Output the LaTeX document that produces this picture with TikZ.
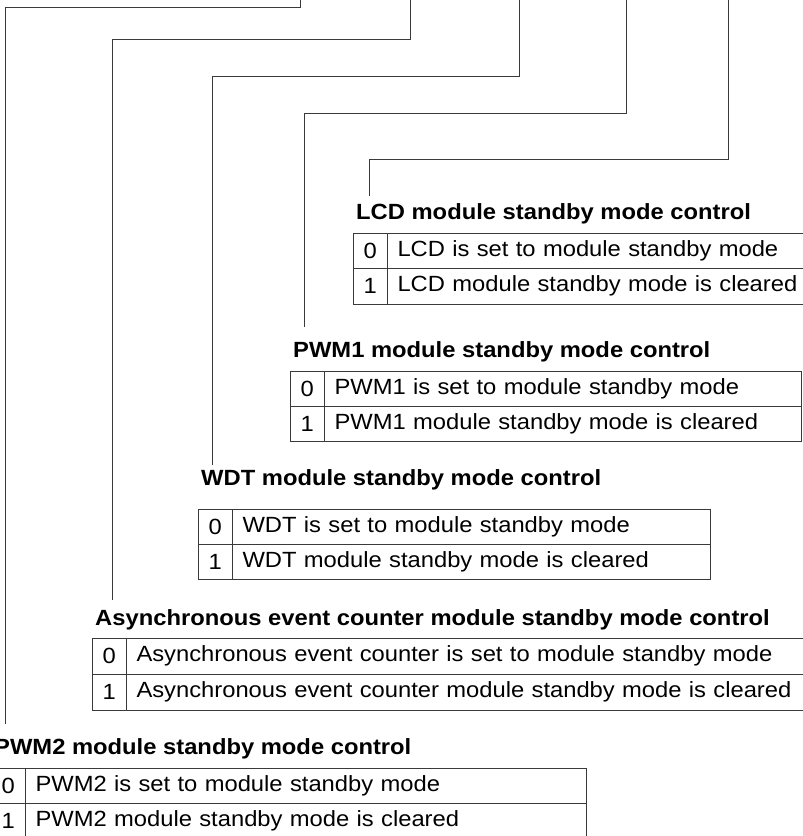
\documentclass[tikz,border=0pt]{standalone}
\usepackage{fontspec}
\setmainfont{Liberation Sans}[FakeStretch=1.08]
\usepackage{tikz}
\usetikzlibrary{positioning}
\definecolor{RuleGray}{HTML}{3A3A3A}

\begin{document}
\begin{tikzpicture}[x=1pt, y=-1pt,
  wire/.style={RuleGray, line width=0.9pt},
  ttl/.style={anchor=base west, inner sep=0pt, font=\fontsize{22}{26}\selectfont\bfseries},
  bitcell/.style={draw=RuleGray, line width=0.9pt, outer sep=0pt, minimum width=34.5pt,
    minimum height=35pt, inner sep=0pt, font=\fontsize{22}{26}\selectfont},
  desccell/.style={draw=RuleGray, line width=0.9pt, outer sep=0pt, minimum height=35pt,
    text width=#1, align=left, inner xsep=10pt, inner ysep=0pt, font=\fontsize{22}{26}\selectfont},
]
  \useasboundingbox (0,0) rectangle (803,836);
  % bit wires from the register down to each field
  \foreach \n/\tx/\hy/\lx/\ey in {1/300/7/5/724, 2/410/39/112/600, 3/519/76/212/465,
                                  4/626/113/304/327, 5/728/159/369/196} {
    \coordinate (t\n) at (\tx,-2);
    \coordinate (e\n) at (\lx,\ey);
    \draw[wire] (t\n) -- (\tx,\hy) -| (e\n);
  }
  % LCD
  \node[ttl] (lcdttl) at (356,219) {LCD module standby mode control};
  \node[bitcell, anchor=north west, minimum height=35.5pt] (lcdb0) at (353,233) {0};
  \node[desccell=420pt, minimum height=35.5pt, right=0pt of lcdb0] (lcdd0) {LCD is set to module standby mode};
  \node[bitcell, minimum height=35.5pt, below=0pt of lcdb0] (lcdb1) {1};
  \node[desccell=420pt, minimum height=35.5pt, right=0pt of lcdb1] (lcdd1) {LCD module standby mode is cleared};
  % PWM1
  \node[ttl] (pwmattl) at (293,357) {PWM1 module standby mode control};
  \node[bitcell, anchor=north west] (pwmab0) at (290,371) {0};
  \node[desccell=457pt, right=0pt of pwmab0] (pwmad0) {PWM1 is set to module standby mode};
  \node[bitcell, below=0pt of pwmab0] (pwmab1) {1};
  \node[desccell=457pt, right=0pt of pwmab1] (pwmad1) {PWM1 module standby mode is cleared};
  % WDT
  \node[ttl] (wdtttl) at (201,485) {WDT module standby mode control};
  \node[bitcell, anchor=north west] (wdtb0) at (198,509) {0};
  \node[desccell=458pt, right=0pt of wdtb0] (wdtd0) {WDT is set to module standby mode};
  \node[bitcell, below=0pt of wdtb0] (wdtb1) {1};
  \node[desccell=458pt, right=0pt of wdtb1] (wdtd1) {WDT module standby mode is cleared};
  % asynchronous event counter
  \node[ttl] (aecttl) at (95,625) {Asynchronous event counter module standby mode control};
  \node[bitcell, anchor=north west, minimum height=36pt] (aecb0) at (92,638) {0};
  \node[desccell=684pt, minimum height=36pt, right=0pt of aecb0] (aecd0) {Asynchronous event counter is set to module standby mode};
  \node[bitcell, minimum height=36pt, below=0pt of aecb0] (aecb1) {1};
  \node[desccell=684pt, minimum height=36pt, right=0pt of aecb1] (aecd1) {Asynchronous event counter module standby mode is cleared};
  % PWM2
  \node[ttl] (pwmbttl) at (-6,754) {PWM2 module standby mode control};
  \node[bitcell, anchor=north west] (pwmbb0) at (-9,768) {0};
  \node[desccell=541pt, right=0pt of pwmbb0] (pwmbd0) {PWM2 is set to module standby mode};
  \node[bitcell, below=0pt of pwmbb0] (pwmbb1) {1};
  \node[desccell=541pt, right=0pt of pwmbb1] (pwmbd1) {PWM2 module standby mode is cleared};
\end{tikzpicture}
\end{document}
